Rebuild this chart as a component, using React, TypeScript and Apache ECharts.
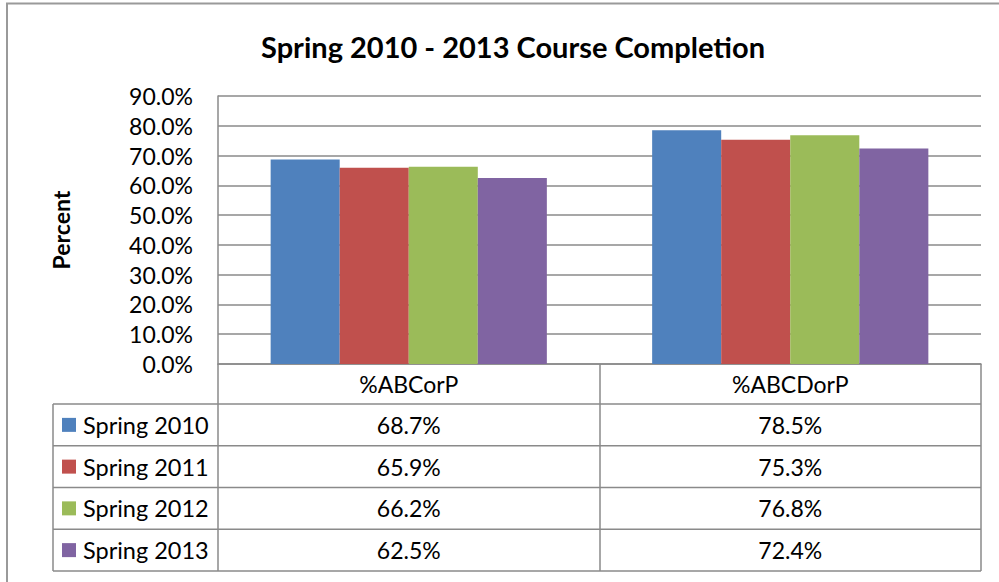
import React, { useEffect, useRef } from "react";
import * as echarts from "echarts";

const categories = ["%ABCorP", "%ABCDorP"];
const seriesNames = ["Spring 2010", "Spring 2011", "Spring 2012", "Spring 2013"];
const spring2010 = [68.7, 78.5];
const spring2011 = [65.9, 75.3];
const spring2012 = [66.2, 76.8];
const spring2013 = [62.5, 72.4];
const seriesValues = [spring2010, spring2011, spring2012, spring2013];
const colors = ["#4F81BD", "#C0504D", "#9BBB59", "#8064A2"];
const titleText = "Spring 2010 - 2013 Course Completion";
const yAxisName = "Percent";

const W = 999;
const H = 582;
const FONT = "Lato, 'Open Sans', sans-serif";
const GRID_LEFT = 218;
const GRID_RIGHT = 981;
const GRID_TOP = 96;
const AXIS_Y = 364;
const HEADER_BOTTOM = 404;
const TABLE_BOTTOM = 571;
const TABLE_LEFT = 53;
const LINE = "#8a8a8a";

export default function App() {
  const ref = useRef<HTMLDivElement>(null);
  useEffect(() => {
    if (!ref.current) return;
    const chart = echarts.init(ref.current, undefined, { renderer: "svg" });
    const rowH = (TABLE_BOTTOM - HEADER_BOTTOM) / seriesNames.length;
    const colW = (GRID_RIGHT - GRID_LEFT) / categories.length;
    const graphics: any[] = [];
    // outer chart border
    graphics.push({
      type: "rect",
      shape: { x: 7, y: 3.5, width: 1200, height: 800 },
      style: { fill: "none", stroke: "#9a9a9a", lineWidth: 2 },
      silent: true,
    });
    // horizontal table lines
    for (let i = 0; i <= seriesNames.length; i++) {
      const y = HEADER_BOTTOM + i * rowH;
      graphics.push({
        type: "line",
        shape: { x1: TABLE_LEFT, y1: y, x2: GRID_RIGHT, y2: y },
        style: { stroke: LINE, lineWidth: 1.5 },
        silent: true,
      });
    }
    graphics.push({
      type: "line",
      shape: { x1: TABLE_LEFT, y1: HEADER_BOTTOM, x2: TABLE_LEFT, y2: TABLE_BOTTOM },
      style: { stroke: LINE, lineWidth: 1.5 },
      silent: true,
    });
    seriesNames.forEach((name, i) => {
      const cy = HEADER_BOTTOM + (i + 0.5) * rowH;
      graphics.push({
        type: "rect",
        shape: { x: 62, y: cy - 7, width: 14, height: 14 },
        style: { fill: colors[i] },
        silent: true,
      });
      graphics.push({
        type: "text",
        x: 83,
        y: cy,
        style: {
          text: name,
          font: `23.5px ${FONT}`,
          fill: "#000",
          textAlign: "left",
          textVerticalAlign: "middle",
        },
        silent: true,
      });
      categories.forEach((_, j) => {
        graphics.push({
          type: "text",
          x: GRID_LEFT + (j + 0.5) * colW,
          y: cy,
          style: {
            text: seriesValues[i][j].toFixed(1) + "%",
            font: `23px ${FONT}`,
            fill: "#000",
            textAlign: "center",
            textVerticalAlign: "middle",
          },
          silent: true,
        });
      });
    });

    chart.setOption({
      animation: false,
      backgroundColor: "#fff",
      title: {
        text: titleText,
        left: 256,
        top: 27,
        textStyle: { fontFamily: FONT, fontSize: 29, fontWeight: "bold", color: "#000" },
      },
      grid: {
        left: GRID_LEFT,
        right: W - GRID_RIGHT,
        top: GRID_TOP,
        bottom: H - AXIS_Y,
        containLabel: false,
      },
      xAxis: {
        type: "category",
        data: categories,
        axisLine: { show: true, lineStyle: { color: LINE, width: 1.5 } },
        axisTick: {
          show: true,
          alignWithLabel: false,
          length: TABLE_BOTTOM - AXIS_Y,
          lineStyle: { color: LINE, width: 1.5 },
        },
        axisLabel: { fontFamily: FONT, fontSize: 23, color: "#000", margin: 8 },
      },
      yAxis: {
        type: "value",
        min: 0,
        max: 90,
        interval: 10,
        name: yAxisName,
        nameLocation: "middle",
        nameRotate: 90,
        nameGap: 146,
        nameTextStyle: { fontFamily: FONT, fontSize: 23, fontWeight: "bold", color: "#000" },
        axisLine: { show: true, lineStyle: { color: LINE, width: 1.5 } },
        axisTick: { show: false },
        splitLine: { lineStyle: { color: LINE, width: 1.5 } },
        axisLabel: {
          fontFamily: FONT,
          fontSize: 23,
          color: "#000",
          margin: 25,
          formatter: (v: number) => v.toFixed(1) + "%",
        },
      },
      series: seriesNames.map((name, i) => ({
        name,
        type: "bar",
        data: seriesValues[i],
        itemStyle: { color: colors[i] },
        barGap: "0%",
        barCategoryGap: "27.6%",
      })),
      graphic: graphics,
    });
    return () => chart.dispose();
  }, []);
  return (
    <div
      ref={ref}
      style={{ position: "fixed", left: 0, top: 0, width: W, height: H }}
    />
  );
}
